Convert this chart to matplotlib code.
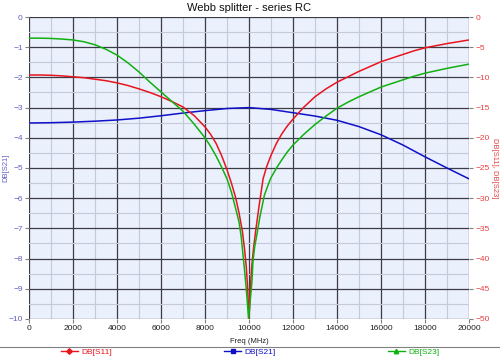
import matplotlib
matplotlib.use("Agg")
import matplotlib.pyplot as plt
from matplotlib.lines import Line2D
from matplotlib.ticker import MultipleLocator

plt.rcParams["font.family"] = ["Liberation Sans", "DejaVu Sans"]

# values
f_s11 = [0, 500, 1000, 1500, 2000, 2500, 3000, 3500, 4000, 4500, 5000, 5500,
         6000, 6500, 7000, 7500, 8000, 8250, 8500, 8750, 9000, 9200, 9400,
         9550, 9700, 9800, 9880, 9940, 9975, 10000, 10025, 10060, 10120,
         10200, 10300, 10450, 10640, 10800, 11000, 11250, 11500, 11750, 12000,
         12500, 13000, 13500, 14000, 14500, 15000, 15500, 16000, 16500, 17000,
         17500, 18000, 18500, 19000, 19500, 20000]
db_s11 = [-9.6, -9.6, -9.65, -9.75, -9.9, -10.05, -10.3, -10.55, -10.9, -11.35,
          -11.9, -12.5, -13.2, -14.0, -14.9, -16.3, -18.2, -19.4, -20.9, -22.9,
          -25.3, -27.5, -30.0, -32.5, -35.5, -38.5, -41.5, -45.0, -48.0, -50.0,
          -48.0, -45.0, -41.5, -38.5, -35.5, -31.5, -26.8, -24.8, -22.9, -20.9,
          -19.3, -18.0, -16.9, -14.9, -13.2, -11.9, -10.8, -9.9, -9.0, -8.2,
          -7.4, -6.8, -6.2, -5.6, -5.1, -4.75, -4.4, -4.1, -3.8]

f_s23 = [0, 500, 1000, 1500, 2000, 2500, 3000, 3500, 4000, 4500, 5000, 5500,
         6000, 6500, 7000, 7500, 8000, 8250, 8500, 8750, 9000, 9200, 9400,
         9550, 9650, 9730, 9800, 9870, 9920, 9980, 10030, 10080, 10130, 10180,
         10260, 10360, 10500, 10700, 10900, 11000, 11250, 11500, 11750, 12000,
         12500, 13000, 13500, 14000, 14500, 15000, 15500, 16000, 16500, 17000,
         17500, 18000, 18500, 19000, 19500, 20000]
db_s23 = [-3.5, -3.5, -3.55, -3.65, -3.8, -4.1, -4.6, -5.35, -6.3, -7.6, -9.1,
          -10.8, -12.4, -14.0, -15.6, -17.7, -20.0, -21.4, -23.0, -24.8, -26.8,
          -29.0, -31.8, -34.0, -36.5, -39.5, -42.0, -44.8, -47.0, -50.0, -48.0,
          -46.0, -44.0, -40.5, -38.0, -36.0, -33.0, -29.5, -27.5, -26.6, -25.0,
          -23.6, -22.3, -21.2, -19.4, -17.8, -16.4, -15.1, -14.1, -13.2, -12.4,
          -11.6, -11.0, -10.4, -9.8, -9.3, -8.9, -8.5, -8.15, -7.8]

f_s21 = [0, 1000, 2000, 3000, 4000, 5000, 6000, 7000, 8000, 9000, 10000,
         11000, 12000, 13000, 14000, 15000, 16000, 17000, 18000, 19000, 20000]
db_s21 = [-3.51, -3.5, -3.48, -3.45, -3.41, -3.35, -3.27, -3.18, -3.1, -3.03,
          -3.0, -3.06, -3.17, -3.28, -3.42, -3.63, -3.9, -4.24, -4.63, -5.0,
          -5.36]

red = "#e8141e"
blue = "#1010c8"
green = "#10b010"
left_col = "#6060c8"
right_col = "#e84040"

fig = plt.figure(figsize=(5, 3.58), dpi=100)
ax = fig.add_axes([0.058, 0.109, 0.88, 0.8435])
ax.set_facecolor("#eaf0fc")

ax.set_xlim(0, 20000)
ax.set_ylim(-10, 0)
ax.xaxis.set_major_locator(MultipleLocator(2000))
ax.xaxis.set_minor_locator(MultipleLocator(1000))
ax.yaxis.set_major_locator(MultipleLocator(1))
ax.yaxis.set_minor_locator(MultipleLocator(0.5))
ax.grid(which="major", color="#3c3c46", linewidth=0.9)
ax.grid(which="minor", color="#c4cad8", linewidth=0.8)
ax.set_axisbelow(True)

ax2 = ax.twinx()
ax2.set_ylim(-50, 0)
ax2.yaxis.set_major_locator(MultipleLocator(5))

ax.plot(f_s21, db_s21, color=blue, linewidth=1.1)
ax2.plot(f_s11, db_s11, color=red, linewidth=1.1)
ax2.plot(f_s23, db_s23, color=green, linewidth=1.1)

for a in (ax, ax2):
    for s in a.spines.values():
        s.set_visible(False)
ax.tick_params(axis="x", which="major", length=3, color="#808080",
               labelsize=6, labelcolor="#202020", pad=1.5)
ax.tick_params(axis="y", which="major", length=3, color="#808080",
               labelsize=6, labelcolor=left_col, pad=1.5)
ax.tick_params(which="minor", length=0)
ax2.tick_params(axis="y", length=3, color="#808080", labelsize=6,
                labelcolor=right_col, pad=1.5)

ax.set_title("Webb splitter - series RC", fontsize=8, pad=4, color="#101010")
ax.set_xlabel("Freq (MHz)", fontsize=5.5, labelpad=4, color="#202020")
ax.set_ylabel("DB[S21]", fontsize=5.5, color=left_col)
ax.yaxis.set_label_coords(-0.045, 0.5)
ax2.set_ylabel("DB[S11], DB[S23]", fontsize=5.5, color=right_col,
               rotation=-90, va="center")
ax2.yaxis.set_label_coords(1.058, 0.5)

fig.add_artist(Line2D([0, 1], [0.031, 0.031], transform=fig.transFigure,
                      color="#808080", linewidth=0.8))

handles = [
    Line2D([], [], color=red, marker="D", markersize=2.8, linewidth=1),
    Line2D([], [], color=blue, marker="s", markersize=2.8, linewidth=1),
    Line2D([], [], color=green, marker="^", markersize=3.2, linewidth=1),
]
labels = ["DB[S11]", "DB[S21]", "DB[S23]"]
leg = fig.legend(handles, labels, ncol=3, loc="center",
                 bbox_to_anchor=(0.5, 0.016), frameon=False, fontsize=6,
                 handlelength=2.0, handletextpad=0.4, columnspacing=13.5,
                 borderpad=0, borderaxespad=0)
for t, c in zip(leg.get_texts(), [red, blue, green]):
    t.set_color(c)

fig.savefig("out.png", dpi=100)
